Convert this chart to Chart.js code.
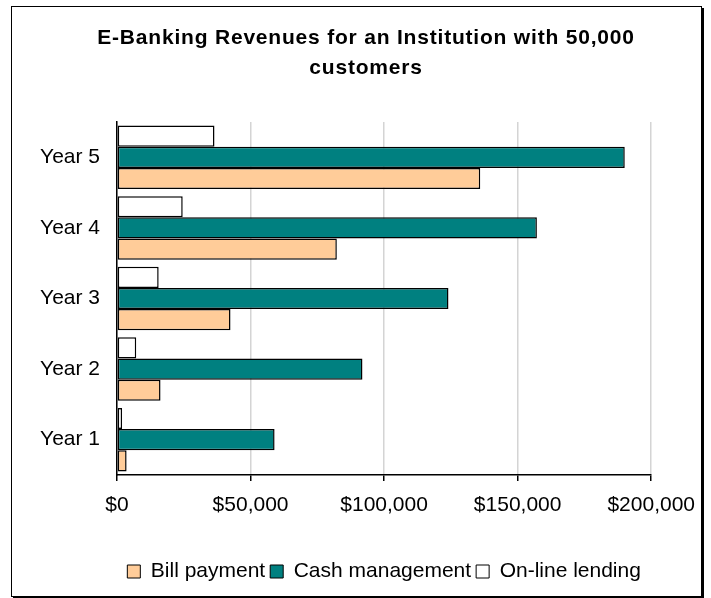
<!DOCTYPE html>
<html>
<head>
<meta charset="utf-8">
<title>E-Banking Revenues</title>
<script src="https://cdn.jsdelivr.net/npm/chart.js@4.4.1/dist/chart.umd.min.js"></script>
<style>
    body { margin: 0; background: #fff; }
    .chart-frame {
        position: absolute;
        left: 11px;
        top: 6px;
        width: 689px;
        height: 589px;
        border: 1px solid #000;
        box-shadow: 2px 2px 0 #000;
        background: #fff;
    }
    .chart-frame canvas { position: absolute; left: 20px; top: 0; }
</style>
</head>
<body>
<div class="chart-frame">
    <canvas id="revenueChart" width="675" height="588"></canvas>
</div>
<script>
// Revenue per year, in dollars
const years = ['Year 1', 'Year 2', 'Year 3', 'Year 4', 'Year 5'];
const billPayment = [3600, 16300, 42500, 82300, 136000];
const cashManagement = [59000, 91900, 124100, 157200, 190100];
const onlineLending = [1900, 7200, 15600, 24600, 36500];
const revenueTicks = [0, 50000, 100000, 150000, 200000];

Chart.defaults.font.family = "'Liberation Sans', Arial, sans-serif";
Chart.defaults.font.size = 21;
Chart.defaults.color = '#000';

function formatDollars(value) {
    return '$' + value.toLocaleString('en-US');
}

// Widen the title a little with canvas letter spacing
const spacedTitle = {
    id: 'spacedTitle',
    beforeDraw: function(chart) {
        const title = chart.titleBlock;
        if (!title || title._spaced) return;
        const draw = title.draw.bind(title);
        title.draw = function(area) {
            chart.ctx.save();
            chart.ctx.letterSpacing = '0.8px';
            draw(area);
            chart.ctx.restore();
        };
        title._spaced = true;
    }
};

document.addEventListener('DOMContentLoaded', function() {
    const ctx = document.getElementById('revenueChart');

    // Lending is listed first so it sits on top inside each year group;
    // the legend is reversed to read Bill / Cash / Lending.
    new Chart(ctx, {
        type: 'bar',
        data: {
            labels: years,
            datasets: [{
                label: 'On-line lending',
                data: onlineLending,
                backgroundColor: '#ffffff'
            }, {
                label: 'Cash management',
                data: cashManagement,
                backgroundColor: '#008080'
            }, {
                label: 'Bill payment',
                data: billPayment,
                backgroundColor: '#ffcc99'
            }]
        },
        plugins: [spacedTitle],
        options: {
            indexAxis: 'y',
            responsive: false,
            animation: false,
            datasets: {
                bar: {
                    borderColor: '#000',
                    borderWidth: 1.5,
                    borderSkipped: false,
                    categoryPercentage: 0.9,
                    barPercentage: 1.0
                }
            },
            layout: {
                padding: { left: 5, right: 12, top: 0, bottom: 3 }
            },
            plugins: {
                title: {
                    display: true,
                    text: ['E-Banking Revenues for an Institution with 50,000', 'customers'],
                    color: '#000',
                    font: { size: 21, weight: 'bold', lineHeight: 30 / 21 },
                    padding: { top: 16, bottom: 39 }
                },
                legend: {
                    position: 'bottom',
                    fullSize: false,
                    reverse: true,
                    labels: {
                        boxWidth: 13,
                        boxHeight: 13,
                        padding: 5,
                        color: '#000',
                        generateLabels: function(chart) {
                            const items = Chart.defaults.plugins.legend.labels.generateLabels(chart);
                            items.forEach(function(item) { item.lineWidth = 1; });
                            return items;
                        }
                    }
                },
                tooltip: { enabled: false }
            },
            scales: {
                x: {
                    min: revenueTicks[0],
                    max: revenueTicks[revenueTicks.length - 1],
                    afterFit: function(scale) { scale.height = 81; },
                    afterBuildTicks: function(scale) {
                        scale.ticks = revenueTicks.map(function(v) { return { value: v }; });
                    },
                    ticks: {
                        padding: 12,
                        color: '#000',
                        callback: function(value) { return formatDollars(value); }
                    },
                    grid: {
                        color: '#d4d4d4',
                        tickColor: '#000',
                        tickLength: 6,
                        lineWidth: 1.5
                    },
                    border: { color: '#000', width: 1.5 }
                },
                y: {
                    reverse: true,
                    afterFit: function(scale) { scale.width = 80; },
                    ticks: { padding: 17, color: '#000' },
                    grid: { display: false, drawTicks: false },
                    border: { color: '#000', width: 1.5 }
                }
            }
        }
    });
});
</script>
</body>
</html>
